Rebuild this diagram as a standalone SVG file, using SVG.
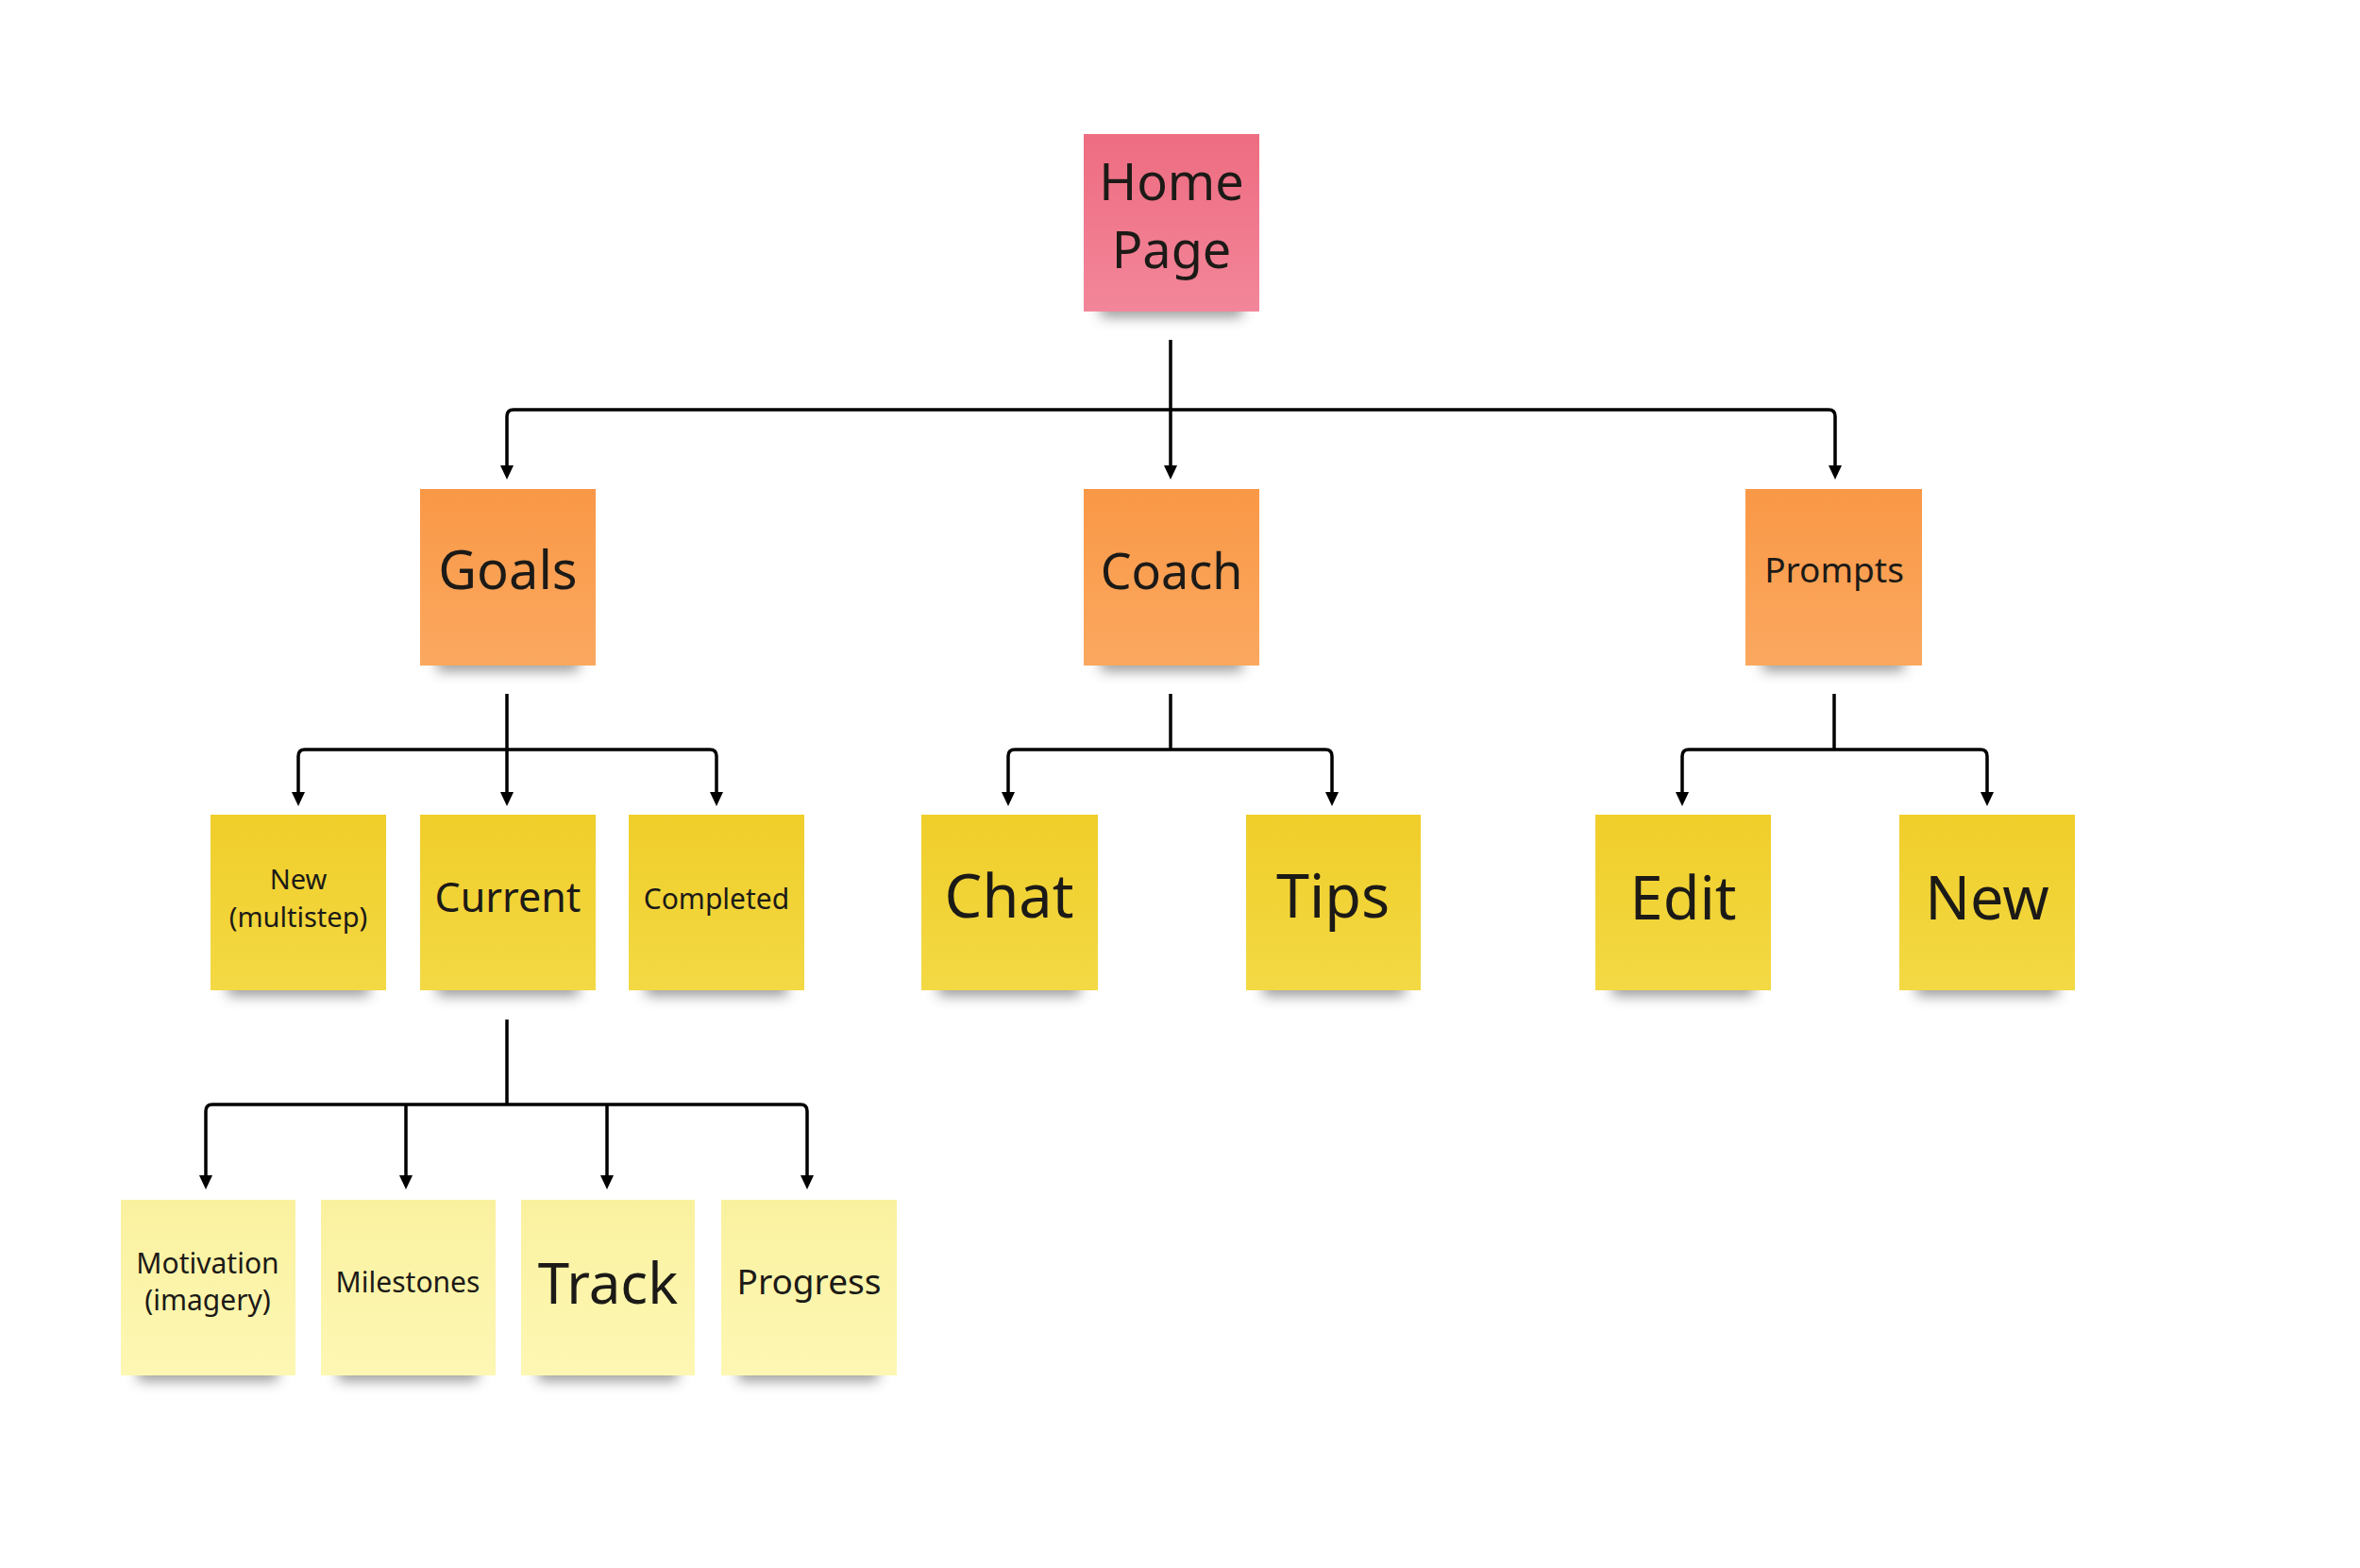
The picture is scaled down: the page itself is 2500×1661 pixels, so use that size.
<svg xmlns="http://www.w3.org/2000/svg" width="2500" height="1661" viewBox="0 0 2500 1661">
<style>
text{font-family:"Noto Sans","Open Sans","DejaVu Sans",sans-serif;fill:#1c1a17;text-anchor:middle}
.sh{fill:#3a3a3a;opacity:.5;filter:url(#blur)}
.pink{fill:url(#gPink)}
.orange{fill:url(#gOrange)}
.yellow{fill:url(#gYellow)}
.light{fill:url(#gLight)}
.conn path{fill:none;stroke:#000;stroke-width:3.5;stroke-linejoin:round}
.arr{marker-end:url(#ah)}
</style>
<defs>
<filter id="blur" x="-20%" y="-100%" width="140%" height="300%"><feGaussianBlur stdDeviation="7"/></filter>
<linearGradient id="gPink" x1="0" y1="0" x2="0" y2="1"><stop offset="0" stop-color="#EE6C81"/><stop offset="1" stop-color="#F3869A"/></linearGradient>
<linearGradient id="gOrange" x1="0" y1="0" x2="0" y2="1"><stop offset="0" stop-color="#F99846"/><stop offset="1" stop-color="#FBA860"/></linearGradient>
<linearGradient id="gYellow" x1="0" y1="0" x2="0" y2="1"><stop offset="0" stop-color="#F0CE2A"/><stop offset="1" stop-color="#F3D944"/></linearGradient>
<linearGradient id="gLight" x1="0" y1="0" x2="0" y2="1"><stop offset="0" stop-color="#FAF19F"/><stop offset="1" stop-color="#FDF7B4"/></linearGradient>
<marker id="ah" markerUnits="userSpaceOnUse" markerWidth="16" markerHeight="15" refX="6" refY="7" orient="auto"><path d="M0,0 L15,7 L0,14 z" fill="#000"/></marker>
</defs>
<rect width="2500" height="1661" fill="#fff"/>

<g class="conn" id="connectors">
<path d="M1240,360 V434"/>
<path class="arr" d="M1240,434 H544 Q537,434 537,441 V499"/>
<path class="arr" d="M1240,434 V499"/>
<path class="arr" d="M1240,434 H1937 Q1944,434 1944,441 V499"/>
<path d="M537,735 V794"/>
<path class="arr" d="M537,794 H323 Q316,794 316,801 V845"/>
<path class="arr" d="M537,794 V845"/>
<path class="arr" d="M537,794 H752 Q759,794 759,801 V845"/>
<path d="M1240,735 V794"/>
<path class="arr" d="M1240,794 H1075 Q1068,794 1068,801 V845"/>
<path class="arr" d="M1240,794 H1404 Q1411,794 1411,801 V845"/>
<path d="M1943,735 V794"/>
<path class="arr" d="M1943,794 H1789 Q1782,794 1782,801 V845"/>
<path class="arr" d="M1943,794 H2098 Q2105,794 2105,801 V845"/>
<path d="M537,1080 V1170"/>
<path class="arr" d="M537,1170 H225 Q218,1170 218,1177 V1251"/>
<path class="arr" d="M430,1170 V1251"/>
<path class="arr" d="M643,1170 V1251"/>
<path class="arr" d="M537,1170 H848 Q855,1170 855,1177 V1251"/>
</g>

<g id="n-home"><rect class="sh" x="1166" y="310" width="150" height="26"/><rect class="pink" x="1148" y="142" width="186" height="188"/><text x="1241" y="212" font-size="54">Home</text><text x="1241" y="284" font-size="54">Page</text></g>

<g id="n-goals"><rect class="sh" x="463" y="685" width="150" height="26"/><rect class="orange" x="445" y="518" width="186" height="187"/><text x="538" y="624" font-size="56">Goals</text></g>
<g id="n-coach"><rect class="sh" x="1166" y="685" width="150" height="26"/><rect class="orange" x="1148" y="518" width="186" height="187"/><text x="1241" y="624" font-size="52">Coach</text></g>
<g id="n-prompts"><rect class="sh" x="1867" y="685" width="150" height="26"/><rect class="orange" x="1849" y="518" width="187" height="187"/><text x="1943" y="617" font-size="37">Prompts</text></g>

<g id="n-new-multistep"><rect class="sh" x="241" y="1029" width="150" height="26"/><rect class="yellow" x="223" y="863" width="186" height="186"/><text x="316" y="942" font-size="29">New</text><text x="316" y="982" font-size="29">(multistep)</text></g>
<g id="n-current"><rect class="sh" x="463" y="1029" width="150" height="26"/><rect class="yellow" x="445" y="863" width="186" height="186"/><text x="538" y="966" font-size="43">Current</text></g>
<g id="n-completed"><rect class="sh" x="684" y="1029" width="150" height="26"/><rect class="yellow" x="666" y="863" width="186" height="186"/><text x="759" y="963" font-size="30">Completed</text></g>
<g id="n-chat"><rect class="sh" x="994" y="1029" width="150" height="26"/><rect class="yellow" x="976" y="863" width="187" height="186"/><text x="1069" y="972" font-size="63">Chat</text></g>
<g id="n-tips"><rect class="sh" x="1338" y="1029" width="150" height="26"/><rect class="yellow" x="1320" y="863" width="185" height="186"/><text x="1412" y="972" font-size="63">Tips</text></g>
<g id="n-edit"><rect class="sh" x="1708" y="1029" width="150" height="26"/><rect class="yellow" x="1690" y="863" width="186" height="186"/><text x="1783" y="974" font-size="63">Edit</text></g>
<g id="n-new"><rect class="sh" x="2030" y="1029" width="150" height="26"/><rect class="yellow" x="2012" y="863" width="186" height="186"/><text x="2105" y="974" font-size="63">New</text></g>

<g id="n-motivation"><rect class="sh" x="146" y="1437" width="148" height="26"/><rect class="light" x="128" y="1271" width="185" height="186"/><text x="220" y="1349" font-size="30">Motivation</text><text x="220" y="1388" font-size="30">(imagery)</text></g>
<g id="n-milestones"><rect class="sh" x="358" y="1437" width="148" height="26"/><rect class="light" x="340" y="1271" width="185" height="186"/><text x="432" y="1369" font-size="30">Milestones</text></g>
<g id="n-track"><rect class="sh" x="570" y="1437" width="148" height="26"/><rect class="light" x="552" y="1271" width="184" height="186"/><text x="644" y="1381" font-size="60">Track</text></g>
<g id="n-progress"><rect class="sh" x="782" y="1437" width="148" height="26"/><rect class="light" x="764" y="1271" width="186" height="186"/><text x="857" y="1371" font-size="37">Progress</text></g>
</svg>
